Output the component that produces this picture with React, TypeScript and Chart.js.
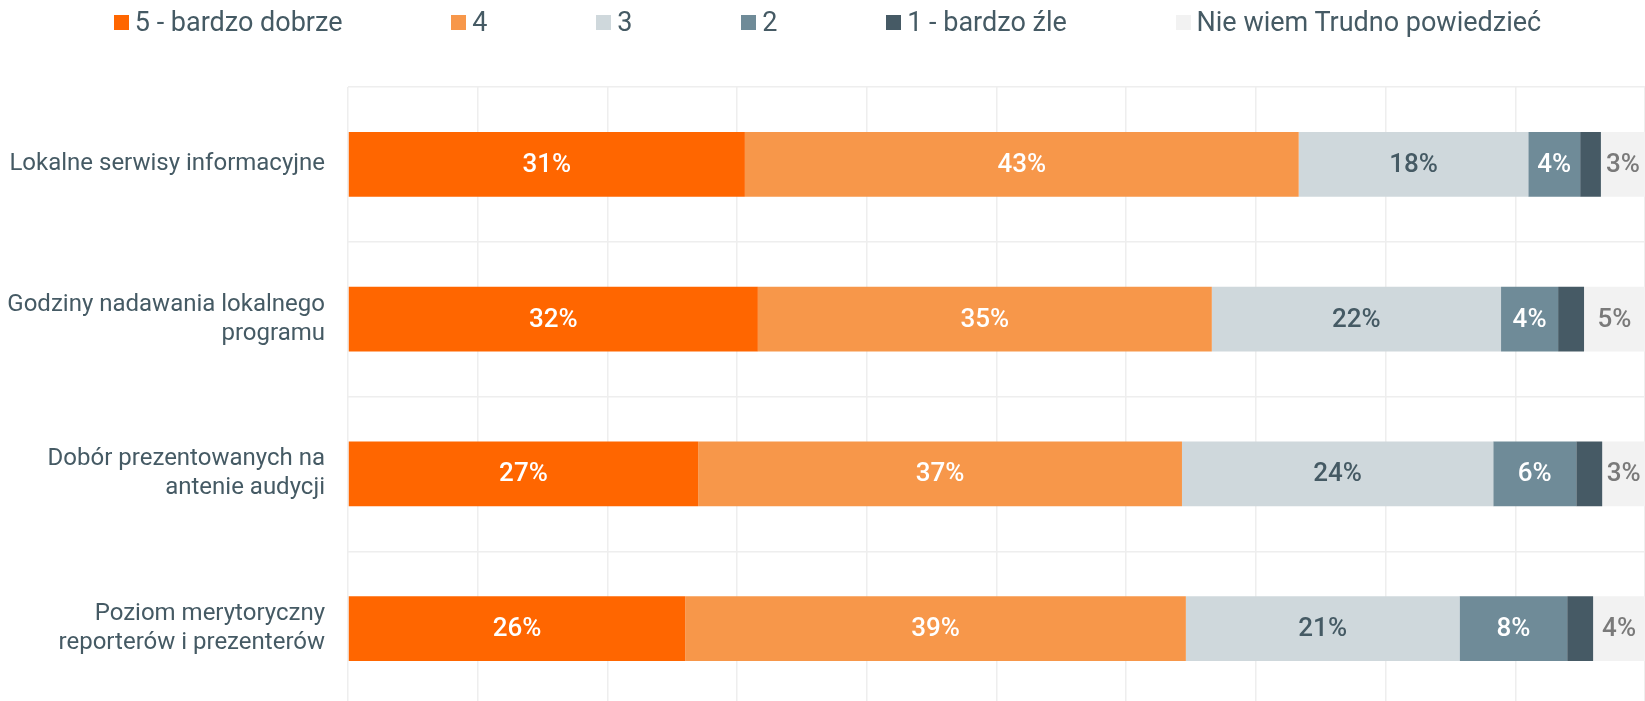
import React, { useEffect, useRef } from "react";
import { Chart, registerables } from "chart.js";

Chart.register(...registerables);

const categories: (string | string[])[] = [
  "Lokalne serwisy informacyjne",
  ["Godziny nadawania lokalnego", "programu"],
  ["Dobór prezentowanych na", "antenie audycji"],
  ["Poziom merytoryczny", "reporterów i prezenterów"],
];

const seriesNames = [
  "5 - bardzo dobrze",
  "4",
  "3",
  "2",
  "1 - bardzo źle",
  "Nie wiem Trudno powiedzieć",
];

const s5 = [30.6, 31.6, 27.0, 26.0];
const s4 = [42.7, 35.0, 37.3, 38.6];
const s3 = [17.7, 22.3, 24.0, 21.1];
const s2 = [4.0, 4.4, 6.4, 8.3];
const s1 = [1.6, 2.0, 2.0, 2.0];
const sNie = [3.4, 4.7, 3.3, 4.0];

const seriesValues = [s5, s4, s3, s2, s1, sNie];

const barColors = ["#ff6600", "#f7974a", "#cfd8dc", "#6f8b98", "#465a65", "#f2f2f2"];
const labelColors = ["#ffffff", "#ffffff", "#455a64", "#ffffff", "#ffffff", "#7a7a7a"];

const TEXT = "#455a64";
const FONT = "Roboto, 'Noto Sans', sans-serif";

const segmentLabels = {
  id: "segmentLabels",
  afterDatasetsDraw(chart: any) {
    const ctx = chart.ctx;
    ctx.save();
    ctx.font = `500 26px ${FONT}`;
    ctx.textAlign = "center";
    ctx.textBaseline = "middle";
    chart.data.datasets.forEach((ds: any, di: number) => {
      const meta = chart.getDatasetMeta(di);
      if (meta.hidden) return;
      meta.data.forEach((el: any, i: number) => {
        const v = ds.data[i] as number;
        if (v < 2.5) return;
        const p = el.getProps(["x", "y", "base"], true);
        ctx.fillStyle = labelColors[di];
        ctx.fillText(Math.round(v) + "%", (p.x + p.base) / 2, p.y + 1);
      });
    });
    ctx.restore();
  },
};

export default function App() {
  const ref = useRef<HTMLCanvasElement | null>(null);

  useEffect(() => {
    if (!ref.current) return;
    const chart = new Chart(ref.current, {
      type: "bar",
      data: {
        labels: categories as any,
        datasets: seriesNames.map((name, i) => ({
          label: name,
          data: seriesValues[i],
          backgroundColor: barColors[i],
          borderWidth: 0,
          categoryPercentage: 0.42,
          barPercentage: 1,
        })),
      },
      options: {
        indexAxis: "y",
        responsive: false,
        animation: false,
        devicePixelRatio: 1,
        layout: { padding: { top: 87, left: 0, right: 0, bottom: 0 } },
        plugins: {
          legend: { display: false },
          tooltip: { enabled: false },
        },
        scales: {
          x: {
            stacked: true,
            min: 0,
            max: 100,
            ticks: { display: false, stepSize: 10 },
            grid: { color: "#eeeeee", lineWidth: 1.5, drawTicks: false },
            border: { display: false },
          },
          y: {
            stacked: true,
            afterFit: (scale: any) => {
              scale.width = 348;
              scale.paddingTop = 0;
              scale.paddingBottom = 0;
            },
            ticks: {
              padding: 23,
              color: TEXT,
              font: { family: FONT, size: 24, lineHeight: 1.2 },
            },
            grid: { color: "#eeeeee", lineWidth: 1.5, drawTicks: false },
            border: { display: false },
          },
        },
      },
      plugins: [segmentLabels],
    });
    return () => chart.destroy();
  }, []);

  return (
    <div
      style={{
        position: "absolute",
        left: 0,
        top: 0,
        width: 1645,
        height: 701,
        overflow: "hidden",
        background: "#ffffff",
      }}
    >
      <canvas ref={ref} width={1645} height={706} style={{ display: "block" }} />
      <div
        style={{
          position: "absolute",
          left: 5,
          top: 6,
          width: 1645,
          display: "flex",
          justifyContent: "space-evenly",
          alignItems: "center",
          fontFamily: FONT,
          fontSize: 27,
          color: TEXT,
          whiteSpace: "nowrap",
        }}
      >
        {seriesNames.map((name, i) => (
          <div key={name} style={{ display: "flex", alignItems: "center" }}>
            <span
              style={{
                display: "inline-block",
                width: 15,
                height: 15,
                background: barColors[i],
                marginRight: 6,
              }}
            />
            <span>{name}</span>
          </div>
        ))}
      </div>
    </div>
  );
}
